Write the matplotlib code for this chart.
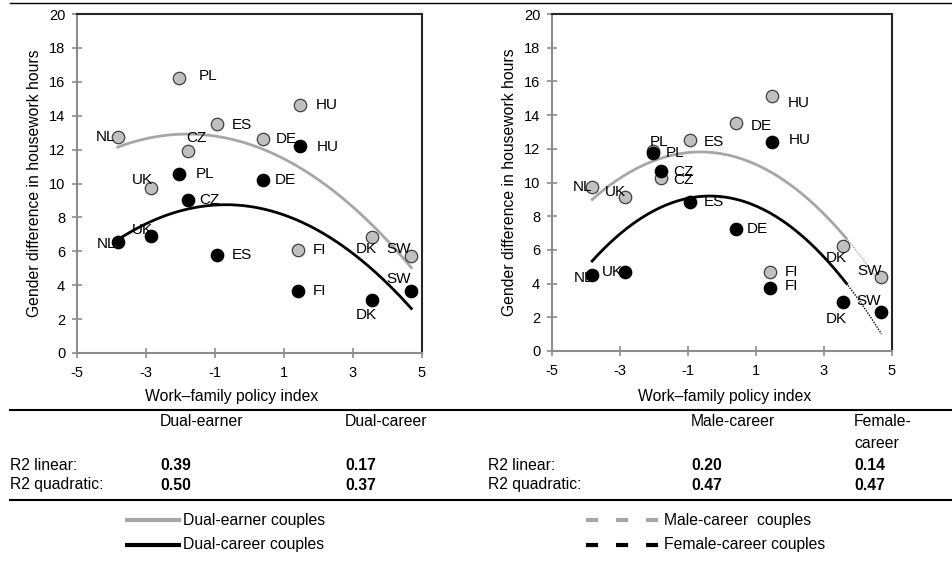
import numpy as np
import matplotlib
matplotlib.use("Agg")
import matplotlib.pyplot as plt
from matplotlib.lines import Line2D

plt.rcParams['font.family'] = ['Liberation Sans', 'DejaVu Sans']
plt.rcParams['axes.unicode_minus'] = False

countries = ['NL', 'UK', 'PL', 'CZ', 'ES', 'DE', 'HU', 'FI', 'DK', 'SW']
policy_index = [-3.82, -2.86, -2.04, -1.79, -0.95, 0.40, 1.46, 1.40, 3.55, 4.69]

dual_earner = [12.73, 9.72, 16.23, 11.93, 13.52, 12.63, 14.62, 6.05, 6.84, 5.74]
dual_career = [6.52, 6.92, 10.55, 9.04, 5.80, 10.22, 12.24, 3.63, 3.14, 3.63]
male_career = [9.71, 9.16, 11.85, 10.29, 12.52, 13.51, 15.13, 4.71, 6.23, 4.41]
female_career = [4.51, 4.71, 11.75, 10.70, 8.82, 7.22, 12.42, 3.72, 2.93, 2.29]

# label offsets in pixels (dx, dy)
off_de = [(-12, 0), (-8, 8), (29, 2), (9, 13), (25, -1), (23, 0), (27, 0), (22, 0), (-6, -12), (-13, 7)]
off_dc = [(-11, -2), (-8, 6), (26, 0), (22, 0), (25, 0), (22, 0), (28, -1), (22, 0), (-6, -15), (-13, 12)]
off_mc = [(-10, 0), (-9, 5), (6, 9), (22, -2), (24, -2), (26, -3), (27, -7), (22, 0), (-6, -12), (-12, 6)]
off_fc = [(-9, -3), (-12, 0), (22, 0), (22, -1), (24, 0), (22, 0), (28, 2), (22, 2), (-6, -17), (-13, 11)]

table_left_cols = ['Dual-earner', 'Dual-career']
table_right_cols = ['Male-career', 'Female-\ncareer']
r2_left = [['0.39', '0.17'], ['0.50', '0.37']]
r2_right = [['0.20', '0.14'], ['0.47', '0.47']]
row_labels = ['R2 linear:', 'R2 quadratic:']

GRAY = '#c0c0c0'
LINE_GRAY = '#a6a6a6'

fig = plt.figure(figsize=(9.52, 5.63), dpi=100)
W, H = 952.0, 563.0

def fx(px):
    return px / W

def fy(py):
    return 1 - py / H

ax1 = fig.add_axes([fx(77), fy(353), fx(422) - fx(77), fy(14) - fy(353)])
ax2 = fig.add_axes([fx(552), fy(351), fx(892) - fx(552), fy(14) - fy(351)])

def style_axes(ax):
    ax.set_xlim(-5, 5)
    ax.set_ylim(0, 20)
    ax.set_xticks([-5, -3, -1, 1, 3, 5])
    ax.set_yticks(range(0, 21, 2))
    for s in ['left', 'bottom']:
        ax.spines[s].set_color('#8c8c8c')
        ax.spines[s].set_linewidth(1.5)
    for s in ['top', 'right']:
        ax.spines[s].set_color('#262626')
        ax.spines[s].set_linewidth(1.5)
    ax.tick_params(direction='inout', length=7, width=1.2, color='#8c8c8c',
                   labelsize=10.5)
    ax.tick_params(axis='x', pad=6)
    ax.tick_params(axis='y', pad=5)
    ax.set_ylabel('Gender difference in housework hours', fontsize=11.3, labelpad=5)

def plot_points(ax, x, y, offs, fill, edge):
    ax.scatter(x, y, s=80, facecolor=fill, edgecolor=edge, linewidth=0.9, zorder=3)
    for name, xi, yi, (dx, dy) in zip(countries, x, y, offs):
        ax.annotate(name, (xi, yi), xytext=(dx, dy), textcoords='offset pixels',
                    ha='center', va='center', fontsize=11, color='black', zorder=5)

def fit_curve(x, y):
    return np.poly1d(np.polyfit(x, y, 2))

x = np.array(policy_index)
xs = np.linspace(x.min(), x.max(), 200)

# left panel
style_axes(ax1)
p_de = fit_curve(x, dual_earner)
p_dc = fit_curve(x, dual_career)
ax1.plot(xs, p_de(xs), color=LINE_GRAY, lw=2, zorder=2)
ax1.plot(xs, p_dc(xs), color='black', lw=2, zorder=2)
plot_points(ax1, policy_index, dual_earner, off_de, GRAY, '#404040')
plot_points(ax1, policy_index, dual_career, off_dc, 'black', 'black')

# right panel
style_axes(ax2)
p_mc = fit_curve(x, male_career)
p_fc = fit_curve(x, female_career)
cut = 3.7
xa = xs[xs <= cut]
xb = xs[xs >= cut]
ax2.plot(xa, p_mc(xa), color=LINE_GRAY, lw=2, zorder=2)
ax2.plot(xb, p_mc(xb), color=LINE_GRAY, lw=1, ls=(0, (1, 1)), zorder=2)
ax2.plot(xa, p_fc(xa), color='black', lw=2, zorder=2)
ax2.plot(xb, p_fc(xb), color='black', lw=1, ls=(0, (1, 1)), zorder=2)
plot_points(ax2, policy_index, male_career, off_mc, GRAY, '#404040')
plot_points(ax2, policy_index, female_career, off_fc, 'black', 'black')

fig.text(fx(232), fy(397), 'Work\u2013family policy index', ha='center', va='center', fontsize=11.3)
fig.text(fx(725), fy(397), 'Work\u2013family policy index', ha='center', va='center', fontsize=11.3)

# horizontal rules
for py, lw in [(3, 1.0), (410, 1.5), (500, 1.5)]:
    fig.add_artist(Line2D([fx(10), 1.0], [fy(py), fy(py)], color='black', lw=lw))

# tables
fs = 11.3
for col, xp in zip(table_left_cols, [160, 345]):
    fig.text(fx(xp), fy(421), col, ha='left', va='center', fontsize=fs)
fig.text(fx(691), fy(421), table_right_cols[0], ha='left', va='center', fontsize=fs)
for i, part in enumerate(table_right_cols[1].split('\n')):
    fig.text(fx(854), fy(421 + 22 * i), part, ha='left', va='center', fontsize=fs)

for r, (lab, yp) in enumerate(zip(row_labels, [466, 485])):
    fig.text(fx(10), fy(yp), lab, ha='left', va='center', fontsize=fs)
    fig.text(fx(488), fy(yp), lab, ha='left', va='center', fontsize=fs)
    for c, xp in enumerate([160, 345]):
        fig.text(fx(xp), fy(yp), r2_left[r][c], ha='left', va='center', fontsize=fs, fontweight='bold')
    for c, xp in enumerate([691, 854]):
        fig.text(fx(xp), fy(yp), r2_right[r][c], ha='left', va='center', fontsize=fs, fontweight='bold')

# legends
legend_items = [
    (125, 181, 520, LINE_GRAY, '-', 'Dual-earner couples'),
    (125, 181, 545, 'black', '-', 'Dual-career couples'),
    (586, 662, 520, LINE_GRAY, (0, (2.9, 4.3)), 'Male-career  couples'),
    (586, 662, 545, 'black', (0, (2.9, 4.3)), 'Female-career couples'),
]
for x0, x1, yp, col, ls, lab in legend_items:
    fig.add_artist(Line2D([fx(x0), fx(x1)], [fy(yp), fy(yp)], color=col, lw=3, ls=ls,
                          solid_capstyle='butt', dash_capstyle='butt'))
    fig.text(fx(x1 + 2), fy(yp), lab, ha='left', va='center', fontsize=fs)

fig.savefig('out.png', dpi=100)
